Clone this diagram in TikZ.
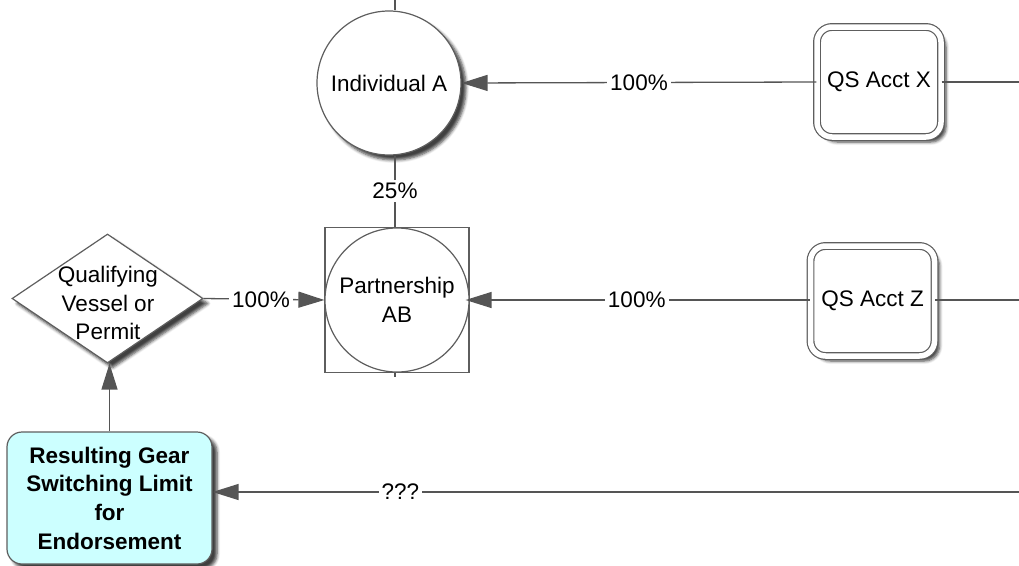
\documentclass[tikz,border=0pt]{standalone}
\usepackage{fontspec}
\setmainfont{Liberation Sans}
\usetikzlibrary{arrows.meta,shapes.geometric,shadows.blur}

\definecolor{edge}{HTML}{555555}
\definecolor{outline}{HTML}{5E5E5E}
\definecolor{palecyan}{HTML}{CCFFFF}

\tikzset{
  txt/.style={font=\fontsize{22.5}{28.7}\selectfont, align=center},
  soft/.style={blur shadow={shadow xshift=5pt, shadow yshift=-5pt,
      shadow blur steps=5, shadow blur radius=3pt, shadow opacity=75}},
  entity/.style={circle, draw=outline, line width=1.2pt, fill=white,
      minimum size=144pt, inner sep=0pt, txt},
  account/.style={rectangle, rounded corners=15pt, draw=outline,
      line width=1.2pt, double=white, double distance=5.5pt, fill=white,
      minimum width=124pt, minimum height=110pt, txt, soft},
  conn/.style={draw=edge, line width=1.3pt},
  arr/.style={conn, -{Triangle[length=26pt, width=16pt, fill=edge]}},
  lbl/.style={fill=white, inner sep=3pt, txt},
}

\begin{document}
\begin{tikzpicture}[x=1pt, y=-1pt]
  \useasboundingbox (0,0) rectangle (1019,565);

  % ownership entities
  \node[entity, soft] (A) at (389,83) {Individual A};
  \node[rectangle, draw=outline, line width=1.2pt, fill=white,
        minimum width=144pt, minimum height=145pt] (P) at (397,300) {};
  \node[entity] (Pc) at (397,300) {Partnership\\AB};

  % quota share accounts
  \node[account] (X) at (879,82) {QS Acct X};
  \node[account] (Z) at (872.5,301) {QS Acct Z};

  % qualifying vessel / permit decision
  \node[diamond, draw=outline, line width=1.2pt, fill=white,
        minimum width=191pt, minimum height=129pt, inner sep=0pt, soft]
        (Q) at (107.5,298.5) {};
  \node[txt, inner sep=0pt] (Qt) at (108,303) {Qualifying\\Vessel or\\Permit};

  % resulting limit
  \node[rectangle, rounded corners=15pt, draw=outline, line width=1.2pt,
        fill=palecyan, minimum width=205pt, minimum height=132pt,
        txt, font=\fontsize{22.5}{28.7}\selectfont\bfseries, soft]
        (R) at (109.5,498) {Resulting Gear\\Switching Limit\\for\\Endorsement};

  % free ends leaving the frame
  \coordinate (topin) at (395,0);
  \coordinate (pout) at (395,377);
  \coordinate (xout) at (1019,82);
  \coordinate (zout) at (1019,300);
  \coordinate (qin) at (1019,492);

  % connectors
  \draw[arr] (X.west) -- node[lbl] {100\%} (A.east);
  \draw[arr, shorten >=-4pt] (Z.west |- P.east) -- node[lbl, xshift=-3pt] {100\%} (P.east);
  \draw[arr] (Q.east) -- node[lbl, xshift=-3pt] {100\%} (P.west);
  \draw[conn] (topin |- P.north) -- node[lbl] {25\%} (topin |- A.south);
  \draw[conn] (topin) -- (topin |- A.north);
  \draw[conn] (topin |- P.south) -- (pout);
  \draw[conn] (X.east) -- (xout);
  \draw[conn] (Z.east |- zout) -- (zout);
  \draw[arr] (qin) -- node[lbl, pos=0.767] {???} (qin -| R.east);
  \draw[arr] (R.north) -- (R.north |- Q.south);
\end{tikzpicture}
\end{document}
